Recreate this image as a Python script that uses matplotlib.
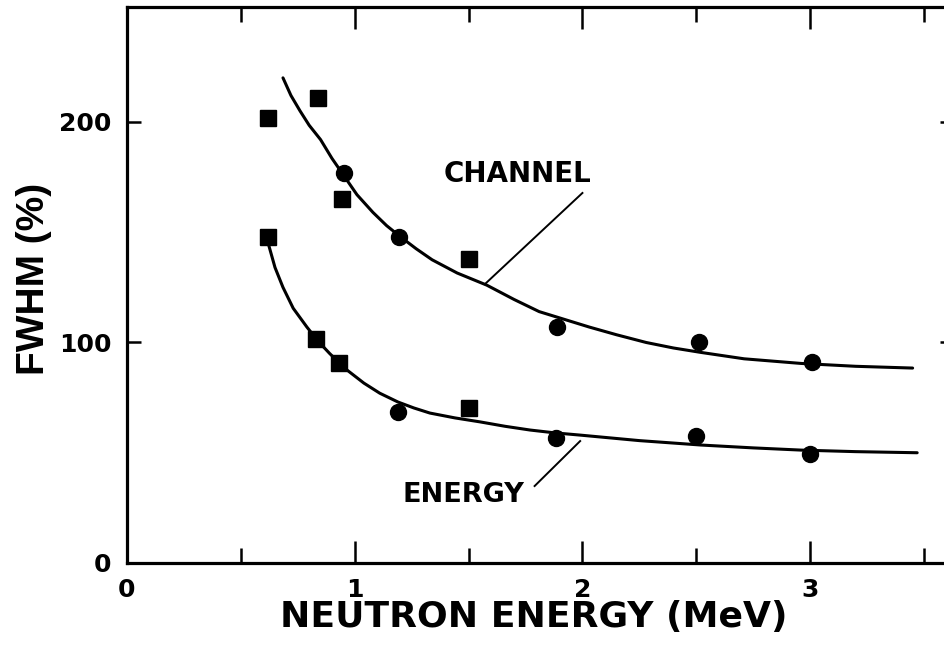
import matplotlib
matplotlib.use("Agg")
import matplotlib.pyplot as plt
from matplotlib.ticker import MultipleLocator

plt.rcParams['font.family'] = ['DejaVu Sans']
plt.rcParams['font.weight'] = 'bold'

# Measured FWHM (%) versus neutron energy (MeV)
chan_sq_x = [0.62, 0.84, 0.945, 1.50]
chan_sq_y = [202, 211, 165, 138]
chan_ci_x = [0.955, 1.195, 1.89, 2.51, 3.01]
chan_ci_y = [177, 148, 107, 100, 91]

ener_sq_x = [0.62, 0.83, 0.93, 1.50]
ener_sq_y = [148, 101.5, 90.5, 70.5]
ener_ci_x = [1.19, 1.885, 2.50, 3.00]
ener_ci_y = [68.5, 56.7, 57.5, 49.5]

# Fitted trend curves
chan_fit_x = [0.685, 0.72, 0.76, 0.80, 0.85, 0.90, 0.95, 1.01, 1.08, 1.14, 1.20, 1.27, 1.34,
              1.45, 1.58, 1.70, 1.81, 1.92, 2.03, 2.15, 2.28, 2.40, 2.52, 2.71, 2.96, 3.20, 3.45]
chan_fit_y = [220, 212, 205, 198.5, 192, 183.5, 176, 167, 159, 153, 148, 142.5, 137.5,
              131.5, 126, 119.5, 114, 110.5, 107, 103.5, 100, 97.5, 95.5, 92.6, 90.5, 89.2, 88.4]
ener_fit_x = [0.62, 0.65, 0.685, 0.73, 0.79, 0.84, 0.89, 0.96, 1.04, 1.11, 1.19, 1.26, 1.33,
              1.44, 1.55, 1.66, 1.77, 1.88, 1.99, 2.25, 2.52, 2.75, 2.96, 3.20, 3.47]
ener_fit_y = [145, 134, 125, 115.5, 107, 100.5, 95, 88, 81.6, 77, 73, 70.3, 68,
              65.8, 64, 62, 60.3, 59, 58, 55.5, 53.5, 52.2, 51.2, 50.5, 50]

xticks_major = [0, 1, 2, 3]
yticks_major = [0, 100, 200]

fig = plt.figure(figsize=(9.45, 6.48), dpi=100)
ax = fig.add_axes([127 / 945, 85 / 648, 826.6 / 945, 555.7 / 648])
ax.set_xlim(0, 3.63)
ax.set_ylim(0, 252)

lw = 2.2
ax.plot(chan_fit_x, chan_fit_y, color='black', lw=lw, solid_capstyle='round')
ax.plot(ener_fit_x, ener_fit_y, color='black', lw=lw, solid_capstyle='round')

ax.plot(chan_sq_x, chan_sq_y, ls='none', marker='s', ms=11.5, color='black')
ax.plot(ener_sq_x, ener_sq_y, ls='none', marker='s', ms=11.5, color='black')
ax.plot(chan_ci_x, chan_ci_y, ls='none', marker='o', ms=11.5, color='black')
ax.plot(ener_ci_x, ener_ci_y, ls='none', marker='o', ms=11.5, color='black')

# Curve labels with leader lines
ax.text(1.715, 172.8, 'CHANNEL', fontsize=20, fontweight='bold', ha='center', va='baseline')
ax.plot([2.0, 1.572], [167.8, 126.5], color='black', lw=1.4)
ax.text(1.476, 27.7, 'ENERGY', fontsize=19.5, fontweight='bold', ha='center', va='baseline')
ax.plot([1.79, 1.99], [34.9, 55.3], color='black', lw=1.4)

for s in ax.spines.values():
    s.set_linewidth(2.3)

ax.xaxis.set_minor_locator(MultipleLocator(0.5))
ax.set_xticks(xticks_major)
ax.set_yticks(yticks_major)
ax.tick_params(axis='x', which='major', direction='in', length=16, width=1.8,
               top=True, bottom=True, labelsize=18, pad=11)
ax.tick_params(axis='x', which='minor', direction='in', length=11, width=1.8,
               top=True, bottom=True)
ax.tick_params(axis='y', which='major', direction='in', length=10, width=1.8,
               left=True, right=True, labelsize=18, pad=11)
for lab in ax.get_xticklabels() + ax.get_yticklabels():
    lab.set_fontweight('bold')

# Axis titles
fig.text(534 / 945, 1 - 627 / 648, 'NEUTRON ENERGY (MeV)', fontsize=26,
         fontweight='bold', ha='center', va='baseline')
fig.text(44 / 945, 1 - 279 / 648, 'FWHM (%)', fontsize=28, fontweight='bold',
         family=['Liberation Sans', 'DejaVu Sans'], rotation=90,
         rotation_mode='anchor', ha='center', va='baseline')

fig.savefig('out.png', dpi=100)
